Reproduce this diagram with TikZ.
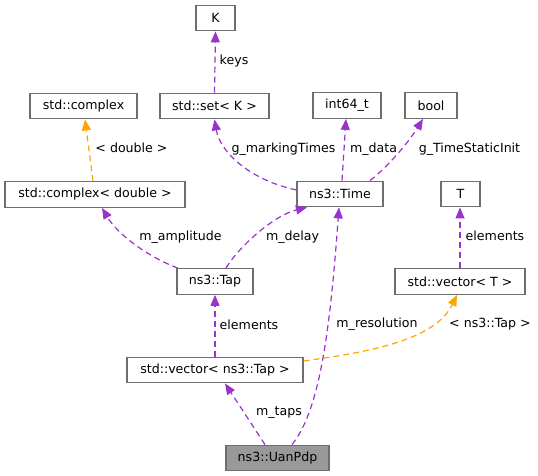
\documentclass[tikz,border=0pt]{standalone}
\usepackage{fontspec}
\setmainfont{DejaVu Sans}
\usetikzlibrary{arrows.meta}
\definecolor{edgepurple}{HTML}{9A32CD}
\definecolor{edgeorange}{HTML}{FFA500}
\definecolor{boxgray}{HTML}{6E6E6E}
\definecolor{hlfill}{HTML}{999999}
\begin{document}
\begin{tikzpicture}[x=1pt,y=-1pt,
  cls/.style={draw=boxgray,line width=1.3pt,fill=white,inner sep=0pt,minimum height=25.5pt,font=\fontsize{12.6}{14}\selectfont},
  hl/.style={cls,fill=hlfill},
  lbl/.style={font=\fontsize{12.6}{14}\selectfont,inner sep=0pt},
  usedge/.style={draw=edgepurple,line width=1.2pt,dash pattern=on 6pt off 4pt,-{Triangle[length=11pt,width=9pt,fill=edgepurple]}},
  tmpledge/.style={draw=edgeorange,line width=1.2pt,dash pattern=on 6pt off 4pt,-{Triangle[length=11pt,width=9pt,fill=edgeorange]}}]
\useasboundingbox (0,0) rectangle (538,476);
% nodes
\node[cls,minimum width=39pt] (K) at (215.5,18) {K};
\node[cls,minimum width=107pt] (cplx) at (83.5,106) {std::complex};
\node[cls,minimum width=109pt] (set) at (214.5,106) {std::set< K >};
\node[cls,minimum width=68pt] (int) at (347,105.5) {int64\_t};
\node[cls,minimum width=52pt] (bool) at (431,105.5) {bool};
\node[cls,minimum width=180pt] (cd) at (95,194.5) {std::complex< double >};
\node[cls,minimum width=86pt] (time) at (340,194) {ns3::Time};
\node[cls,minimum width=39pt] (T) at (460.5,194) {T};
\node[cls,minimum width=76pt] (tap) at (215,281.5) {ns3::Tap};
\node[cls,minimum width=130pt] (vT) at (460,281.5) {std::vector< T >};
\node[cls,minimum width=176pt] (vtap) at (215,370) {std::vector< ns3::Tap >};
\node[hl,minimum width=103pt] (uan) at (277.5,458) {ns3::UanPdp};
% edges
\draw[usedge] (set.north) -- (K.south);
\node[lbl] (lkeys) at (234,61) {keys};
\draw[tmpledge] ([xshift=-2pt]cd.north) -- ([xshift=1.5pt]cplx.south);
\node[lbl] (ldouble) at (131.5,148) {< double >};
\draw[usedge] ([yshift=4pt]time.west) .. controls (250,180) and (220,152) .. (set.south);
\node[lbl] (lmark) at (283.5,149) {g\_markingTimes};
\draw[usedge] ([xshift=2pt]time.north) -- ([xshift=-1pt]int.south);
\node[lbl] (ldata) at (373.5,149) {m\_data};
\draw[usedge] ([xshift=30pt]time.north) .. controls (390,165) and (410,140) .. ([xshift=-8pt]bool.south);
\node[lbl] (lstatic) at (469.5,149) {g\_TimeStaticInit};
\draw[usedge] ([xshift=11pt]tap.north) .. controls (240,245) and (275,215) .. ([xshift=-33pt]time.south);
\node[lbl] (ldelay) at (292.5,237) {m\_delay};
\draw[usedge] ([xshift=-37pt]tap.north) .. controls (150,258) and (118,235) .. ([xshift=7pt]cd.south);
\node[lbl] (lamp) at (180.5,237) {m\_amplitude};
\draw[usedge] (vtap.north) -- (tap.south);
\node[lbl] (lel1) at (249,324.5) {elements};
\draw[usedge] (vT.north) -- ([xshift=-0.5pt]T.south);
\node[lbl] (lel2) at (495,236) {elements};
\draw[tmpledge] ([yshift=9pt]vtap.east) .. controls (370,352) and (435,340) .. ([xshift=-3pt]vT.south);
\node[lbl] (ltap) at (490,324.5) {< ns3::Tap >};
\draw[usedge] ([xshift=-12.5pt]uan.north) -- ([xshift=10pt]vtap.south);
\node[lbl] (ltaps) at (279,412.5) {m\_taps};
\draw[usedge] ([xshift=14.5pt]uan.north) .. controls (320,410) and (330,330) .. ([xshift=-1pt]time.south);
\node[lbl] (lres) at (377,324.5) {m\_resolution};
\end{tikzpicture}
\end{document}
